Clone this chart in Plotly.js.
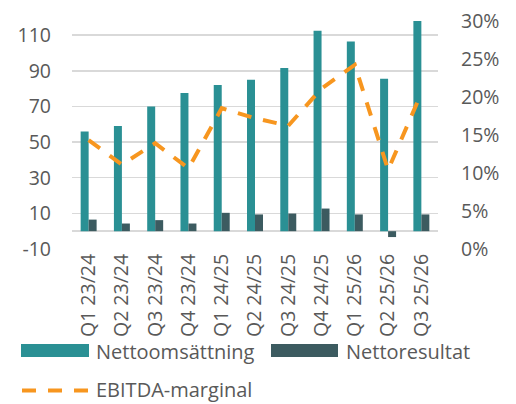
<!DOCTYPE html>
<html>
<head>
<meta charset="utf-8">
<script src="https://cdn.plot.ly/plotly-3.0.1.min.js"></script>
<style>html,body{margin:0;padding:0;background:#fff;}#chart{width:516px;height:404px;}</style>
</head>
<body>
<div id="chart"></div>
<script>
const categories = ["Q1 23/24","Q2 23/24","Q3 23/24","Q4 23/24","Q1 24/25","Q2 24/25","Q3 24/25","Q4 24/25","Q1 25/26","Q2 25/26","Q3 25/26"];
const nettoomsattning = [56, 59, 70, 77.5, 82, 85, 91.5, 112.5, 106.5, 85.5, 118];
const nettoresultat = [6.5, 4.3, 6.2, 4.3, 10.3, 9.4, 9.9, 12.7, 9.4, -3.3, 9.4];
const ebitdaMarginal = [0.143, 0.111, 0.139, 0.106, 0.185, 0.172, 0.162, 0.211, 0.242, 0.104, 0.205];
const seriesNames = ["Nettoomsättning", "Nettoresultat", "EBITDA-marginal"];
const leftTicks = [-10, 10, 30, 50, 70, 90, 110];
const rightTicks = [0, 0.05, 0.10, 0.15, 0.20, 0.25, 0.30];

const colTeal = '#2A9094', colDark = '#3C5B60', colOrange = '#F7961F', txt = '#595959';
const fam = 'Open Sans, Noto Sans, sans-serif';
const font = {family: fam, size: 19.5, color: txt};
const legFont = {family: fam, size: 20, color: txt};

const traces = [
  {type:'bar', x:categories, y:nettoomsattning, name:seriesNames[0], marker:{color:colTeal}, showlegend:false},
  {type:'bar', x:categories, y:nettoresultat, name:seriesNames[1], marker:{color:colDark}, showlegend:false},
  {type:'scatter', mode:'lines', x:categories, y:ebitdaMarginal, yaxis:'y2', name:seriesNames[2],
   line:{color:colOrange, width:4, dash:'14px,12px'}, showlegend:false}
];

// legend drawn in paper coords (plot area: x 72..438, y 20..249)
const px = v => (v - 72) / 366;
const py = v => (249 - v) / 229;
const shapes = [
  {type:'rect', xref:'paper', yref:'paper', x0:px(21), x1:px(89), y0:py(344), y1:py(357), fillcolor:colTeal, line:{width:0}},
  {type:'rect', xref:'paper', yref:'paper', x0:px(271), x1:px(338), y0:py(344), y1:py(357), fillcolor:colDark, line:{width:0}},
  {type:'line', xref:'paper', yref:'paper', x0:px(22), x1:px(90), y0:py(390.5), y1:py(390.5), line:{color:colOrange, width:4, dash:'14px,12px'}}
];
const annotations = [
  {xref:'paper', yref:'paper', x:px(94), y:py(351), text:seriesNames[0], showarrow:false, xanchor:'left', yanchor:'middle', font:legFont},
  {xref:'paper', yref:'paper', x:px(344), y:py(351), text:seriesNames[1], showarrow:false, xanchor:'left', yanchor:'middle', font:legFont},
  {xref:'paper', yref:'paper', x:px(94), y:py(389), text:seriesNames[2], showarrow:false, xanchor:'left', yanchor:'middle', font:legFont}
];

const layout = {
  width:516, height:404,
  margin:{l:72, r:78, t:20, b:155},
  paper_bgcolor:'#fff', plot_bgcolor:'#fff',
  font:font,
  barmode:'group', bargap:0.52, bargroupgap:0,
  showlegend:false,
  xaxis:{type:'category', tickangle:-90, tickfont:font, showgrid:false, showline:false, ticks:'', ticklabelstandoff:0, fixedrange:true},
  yaxis:{range:[-10,118.5], tickvals:leftTicks, ticktext:leftTicks.map(String), tickfont:font,
         showgrid:true, gridcolor:'#D9D9D9', gridwidth:1.5, zeroline:true, zerolinecolor:'#D9D9D9', zerolinewidth:1.5,
         showline:false, ticks:'', ticklabelstandoff:20},
  yaxis2:{overlaying:'y', side:'right', range:[0,0.301], tickvals:rightTicks, ticktext:rightTicks.map(v=>Math.round(v*100)+'%'),
          tickfont:font, showgrid:false, zeroline:false, showline:false, ticks:'', ticklabelstandoff:22},
  shapes:shapes, annotations:annotations
};

Plotly.newPlot('chart', traces, layout, {staticPlot:true, displayModeBar:false});
</script>
</body>
</html>
